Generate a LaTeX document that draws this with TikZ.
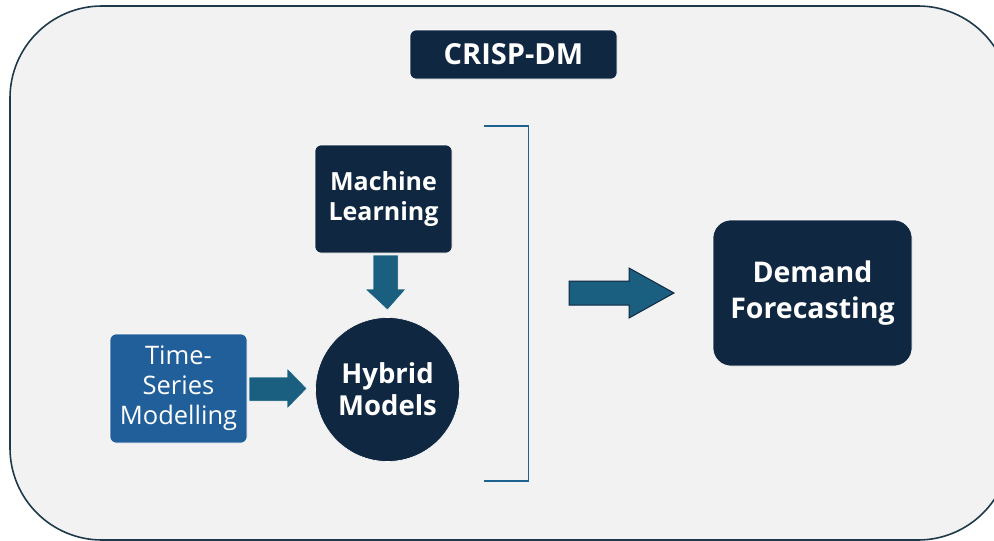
\documentclass[tikz,border=0pt]{standalone}
\usepackage{fontspec}
\setmainfont{Open Sans}
\definecolor{navy}{HTML}{0F2741}
\definecolor{steel}{HTML}{215F9A}
\definecolor{arrowblue}{HTML}{1B5F80}
\definecolor{panel}{HTML}{F2F2F2}
\definecolor{rim}{HTML}{1E3A4A}
\definecolor{bracketblue}{HTML}{1F6390}
\begin{document}
\begin{tikzpicture}[x=1pt,y=-1pt,
  darkbox/.style={fill=navy,draw=white,line width=0.6pt,text=white,font=\bfseries,align=center,inner sep=0pt},
  bluebox/.style={fill=steel,draw=white,line width=0.6pt,text=white,align=center,inner sep=0pt},
  fatarrow/.style={fill=arrowblue,draw=white,line width=0.5pt}]
\useasboundingbox (0,0) rectangle (994,541);
\begin{scope}
\clip (0,0) rectangle (994,541);
\draw[fill=panel,draw=rim,line width=1.6pt,rounded corners=92pt] (10,6) rectangle (1010,540);
\end{scope}

% title
\node[darkbox,rounded corners=6pt,minimum width=207pt,minimum height=49pt,font=\bfseries\fontsize{29}{30}\selectfont] (title) at (513.5,54.5) {CRISP-DM};

% inputs and combined model
\node[darkbox,rounded corners=6pt,minimum width=137pt,minimum height=108pt,font=\bfseries\fontsize{25}{30}\selectfont] (ml) at (383.5,199) {Machine\\Learning};
\node[bluebox,rounded corners=6pt,minimum width=137pt,minimum height=109pt,font=\fontsize{25.5}{30}\selectfont] (ts) at (178.5,388.5) {Time-\\Series\\Modelling};
\node[darkbox,circle,minimum size=144pt,font=\bfseries\fontsize{27.5}{32}\selectfont] (hm) at (387.5,389.5) {Hybrid\\Models};

% arrows into the hybrid model
\filldraw[fatarrow] (373,255) -- (398,255) -- (398,289) -- (406,289) -- (387.5,310) -- (365,289) -- (373,289) -- cycle;
\filldraw[fatarrow] (249,377) -- (287,377) -- (287,368) -- (307,388.5) -- (287,409) -- (287,401) -- (249,401) -- cycle;

% bracket around the model group
\draw[bracketblue,line width=1.4pt] (484,126) -- (528.5,126) -- (528.5,481) -- (484,481);

% output
\filldraw[fill=arrowblue,draw=navy,line width=1pt] (569,281) -- (629,281) -- (629,268) -- (674,293) -- (629,318) -- (629,305) -- (569,305) -- cycle;
\node[darkbox,rounded corners=18pt,minimum width=199pt,minimum height=146pt,font=\bfseries\fontsize{28.5}{36}\selectfont] (df) at (812.5,293) {Demand\\Forecasting};
\end{tikzpicture}
\end{document}
